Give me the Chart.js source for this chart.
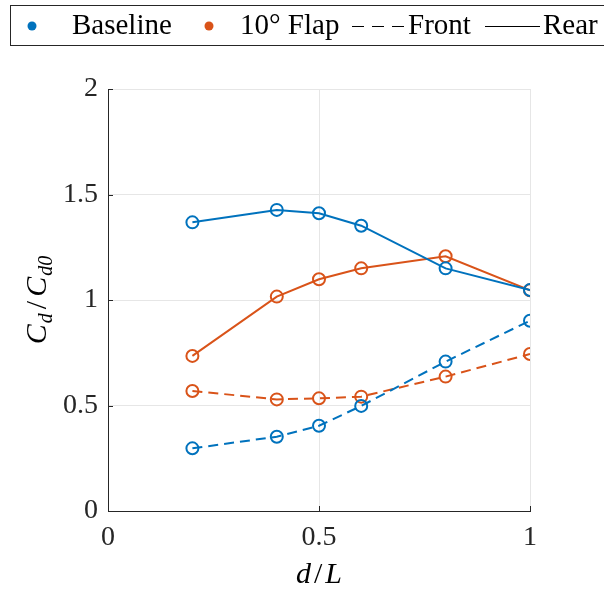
<!DOCTYPE html>
<html><head><meta charset="utf-8">
<script src="https://cdn.jsdelivr.net/npm/chart.js@4"></script>
<style>html,body{margin:0;padding:0;background:#fff;}</style>
</head><body>
<canvas id="c" width="604" height="589"></canvas>
<script>
// ---- data ----
const dL = [0.2, 0.4, 0.5, 0.6, 0.8, 1.0];
const baselineRear  = [1.368, 1.427, 1.411, 1.352, 1.150, 1.047];
const flapRear      = [0.735, 1.016, 1.098, 1.150, 1.207, 1.046];
const baselineFront = [0.297, 0.352, 0.404, 0.498, 0.708, 0.902];
const flapFront     = [0.569, 0.529, 0.534, 0.542, 0.637, 0.744];
const xTicks = [0, 0.5, 1];
const yTicks = [0, 0.5, 1, 1.5, 2];
const legendLabels = ['Baseline', '10\u00B0 Flap', 'Front', 'Rear'];

const BLUE = '#0072BD', ORANGE = '#D95319', AX = '#262626', GRID = '#e6e6e6';
const SERIF = '"Liberation Serif", "DejaVu Serif", serif';

function pts(v){ return dL.map((x,i)=>({x:x, y:v[i]})); }
function ds(label, vals, color, dashed){
  return {label, data: pts(vals), borderColor: color, borderWidth: 2,
    borderDash: dashed ? [10,6] : [], pointRadius: 6, pointHoverRadius: 6,
    pointBorderWidth: 2, pointBorderColor: color,
    pointBackgroundColor: 'rgba(0,0,0,0)', pointStyle: 'circle', tension: 0, fill: false};
}

const fmt = v => String(v);

const legendPlugin = {
  id: 'customLegend',
  afterDraw(chart){
    const ctx = chart.ctx;
    ctx.save();
    ctx.strokeStyle = AX; ctx.lineWidth = 1;
    ctx.strokeRect(10.5, 5.5, 640, 40);
    ctx.font = '29px ' + SERIF;
    ctx.textBaseline = 'middle';
    const cy = 26;
    ctx.fillStyle = BLUE; ctx.beginPath(); ctx.arc(32, cy, 4.5, 0, Math.PI*2); ctx.fill();
    ctx.fillStyle = '#000'; ctx.fillText(legendLabels[0], 72, cy);
    ctx.fillStyle = ORANGE; ctx.beginPath(); ctx.arc(209, cy, 4.5, 0, Math.PI*2); ctx.fill();
    ctx.fillStyle = '#000'; ctx.fillText(legendLabels[1], 240, cy);
    ctx.strokeStyle = '#000'; ctx.lineWidth = 1;
    ctx.setLineDash([12,8]);
    ctx.beginPath(); ctx.moveTo(352, cy+0.5); ctx.lineTo(405, cy+0.5); ctx.stroke();
    ctx.setLineDash([]);
    ctx.fillText(legendLabels[2], 408, cy);
    ctx.beginPath(); ctx.moveTo(485, cy+0.5); ctx.lineTo(540, cy+0.5); ctx.stroke();
    ctx.fillText(legendLabels[3], 543, cy);
    ctx.restore();
  }
};

function drawMath(ctx, parts, x, y, align){
  // parts: [text, italic, sub, extraSpaceAfter]
  const big = 30, small = 20;
  const fontOf = p => (p[1] ? 'italic ' : '') + (p[2] ? small : big) + 'px ' + SERIF;
  let w = 0;
  parts.forEach(p => { ctx.font = fontOf(p); w += ctx.measureText(p[0]).width + (p[3]||0); });
  let cx = align === 'center' ? x - w/2 : x;
  parts.forEach(p => {
    ctx.font = fontOf(p);
    ctx.fillText(p[0], cx, y + (p[2] ? 6 : 0));
    cx += ctx.measureText(p[0]).width + (p[3]||0);
  });
}

const titlePlugin = {
  id: 'axisTitles',
  afterDraw(chart){
    const ctx = chart.ctx, a = chart.chartArea;
    ctx.save();
    ctx.fillStyle = '#000';
    ctx.textBaseline = 'alphabetic';
    drawMath(ctx, [['d',true,false,3],['/',false,false,3],['L',true,false]], (a.left+a.right)/2, 583, 'center');
    ctx.translate(46, (a.top+a.bottom)/2);
    ctx.rotate(-Math.PI/2);
    drawMath(ctx, [['C',true,false,1],['d',true,true,4],['/',false,false,4],['C',true,false,1],['d0',true,true]], 0, 0, 'center');
    ctx.restore();
    // inner tick marks
    ctx.save();
    ctx.strokeStyle = AX; ctx.lineWidth = 1;
    const xs = chart.scales.x, ys = chart.scales.y;
    yTicks.forEach(v => { const py = Math.round(ys.getPixelForValue(v))+0.5;
      ctx.beginPath(); ctx.moveTo(a.left, py); ctx.lineTo(a.left+5, py); ctx.stroke(); });
    xTicks.forEach(v => { const px = Math.round(xs.getPixelForValue(v))+0.5;
      ctx.beginPath(); ctx.moveTo(px, a.bottom); ctx.lineTo(px, a.bottom-5); ctx.stroke(); });
    ctx.restore();
  }
};

new Chart(document.getElementById('c'), {
  type: 'line',
  data: { datasets: [
    ds('Baseline Rear', baselineRear, BLUE, false),
    ds('10° Flap Rear', flapRear, ORANGE, false),
    ds('Baseline Front', baselineFront, BLUE, true),
    ds('10° Flap Front', flapFront, ORANGE, true)
  ]},
  options: {
    responsive: false, animation: false, devicePixelRatio: 1,
    layout: { padding: { top: 89, right: 74, left: 0, bottom: 0 } },
    plugins: { legend: { display: false }, tooltip: { enabled: false } },
    scales: {
      x: { type: 'linear', min: 0, max: 1,
        afterBuildTicks: s => { s.ticks = xTicks.map(v => ({value: v})); },
        afterFit: s => { s.height = 78; },
        ticks: { callback: fmt, color: '#262626', padding: 10, maxRotation: 0,
          font: { family: SERIF, size: 28 } },
        grid: { color: GRID, drawTicks: false },
        border: { display: true, color: AX, width: 1 } },
      y: { type: 'linear', min: 0, max: 2,
        afterBuildTicks: s => { s.ticks = yTicks.map(v => ({value: v})); },
        afterFit: s => { s.width = 108; },
        ticks: { callback: fmt, color: '#262626', padding: 10,
          font: { family: SERIF, size: 28 } },
        grid: { color: GRID, drawTicks: false },
        border: { display: true, color: AX, width: 1 } }
    }
  },
  plugins: [legendPlugin, titlePlugin]
});
</script>
</body></html>
